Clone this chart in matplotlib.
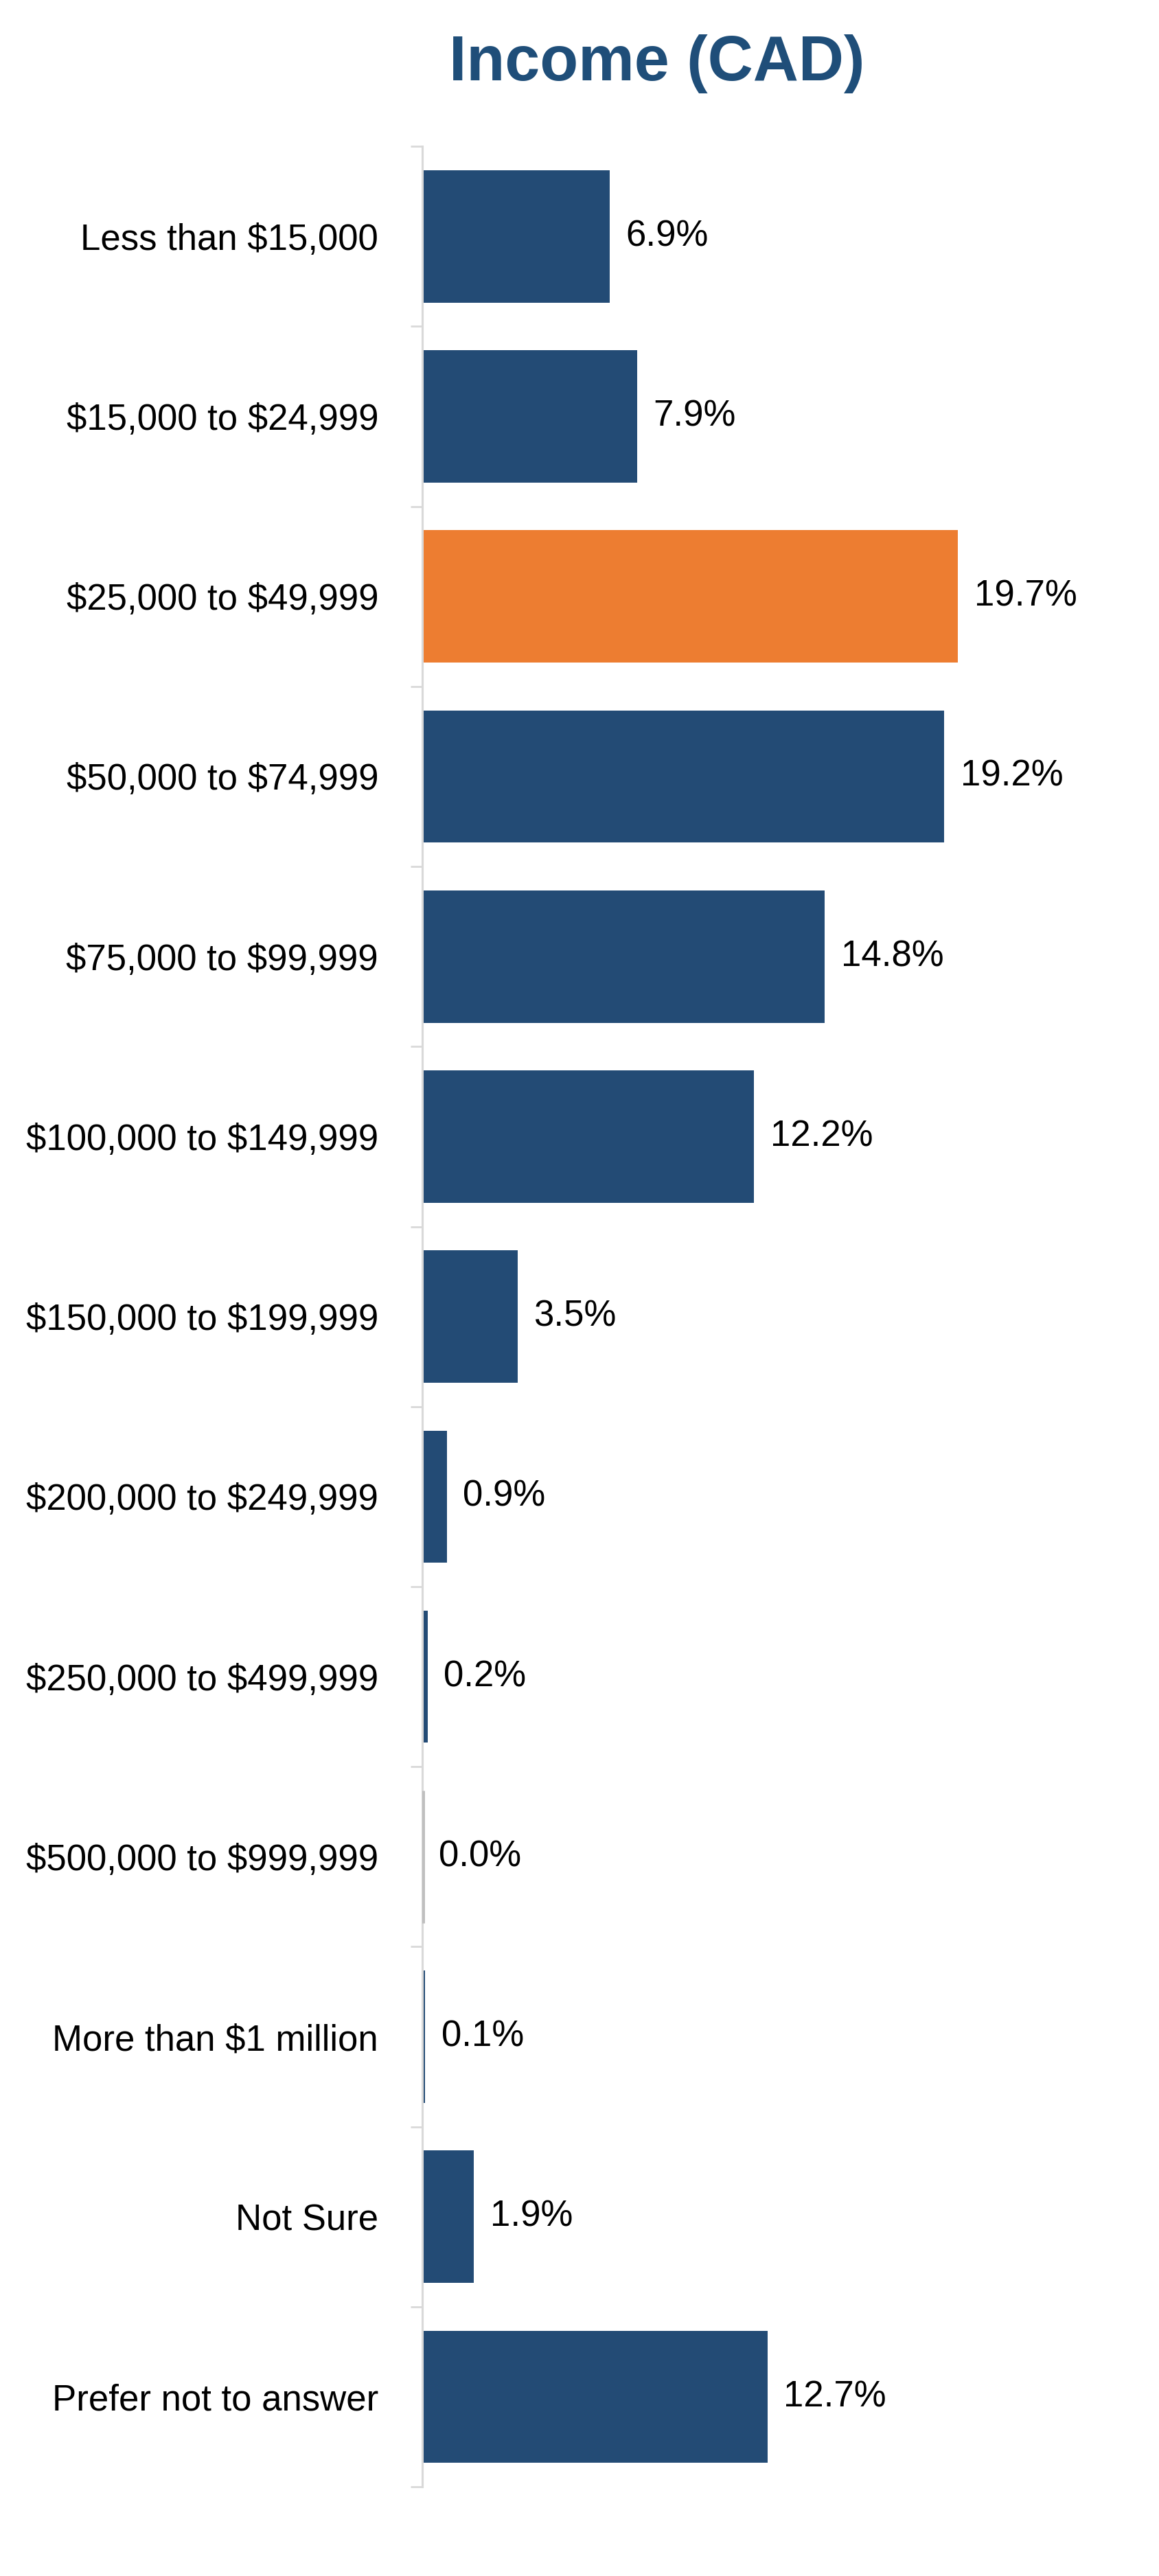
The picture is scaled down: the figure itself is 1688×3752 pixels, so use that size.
import matplotlib.pyplot as plt
import numpy as np

plt.rcParams['font.family'] = ['Liberation Sans', 'DejaVu Sans']

categories = ['Less than $15,000', '$15,000 to $24,999', '$25,000 to $49,999',
              '$50,000 to $74,999', '$75,000 to $99,999', '$100,000 to $149,999',
              '$150,000 to $199,999', '$200,000 to $249,999', '$250,000 to $499,999',
              '$500,000 to $999,999', 'More than $1 million', 'Not Sure',
              'Prefer not to answer']
values = [6.9, 7.9, 19.7, 19.2, 14.8, 12.2, 3.5, 0.9, 0.2, 0.0, 0.1, 1.9, 12.7]
highlight = '$25,000 to $49,999'

navy = '#234B75'
orange = '#ED7D31'

fig = plt.figure(figsize=(16.88, 37.52), dpi=100)
ax = fig.add_axes([0.3643, 0.0346, 0.6132, 0.9086])

y = np.arange(len(categories))
colors = [orange if c == highlight else navy for c in categories]
bars = ax.barh(y, values, height=0.735, color=colors, zorder=2)

# zero bar shows as a thin grey stub
for b, v in zip(bars, values):
    if v == 0:
        b.set_edgecolor('#BFBFBF')
        b.set_linewidth(5)
        b.set_zorder(4)

for yi, v in zip(y, values):
    ax.annotate('{:.1f}%'.format(v), (v, yi), xytext=(17, 0),
                textcoords='offset points', va='center', ha='left',
                fontsize=38, color='black')

ax.set_xlim(0, 26.14)
ax.set_ylim(len(categories) - 0.5, -0.5)
ax.set_yticks(y)
ax.set_yticklabels([c.replace('$', r'\$') for c in categories], fontsize=38)
ax.set_yticks(np.arange(-0.5, len(categories)), minor=True)
ax.tick_params(axis='y', which='major', length=0, pad=46)
ax.tick_params(axis='y', which='minor', length=12, width=2, color='#D9D9D9')
ax.set_xticks([])

for s in ['top', 'right', 'bottom']:
    ax.spines[s].set_visible(False)
ax.spines['left'].set_color('#D9D9D9')
ax.spines['left'].set_linewidth(2.2)

fig.text(0.5665, 1 - 93 / 3752, 'Income (CAD)', ha='center', va='center',
         fontsize=66, fontweight='bold', color='#1F4E79')

fig.savefig('out.png', dpi=100)
